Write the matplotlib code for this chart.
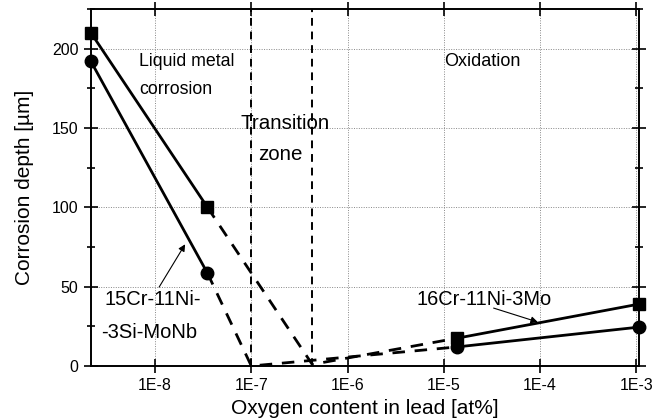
import matplotlib
matplotlib.use("Agg")
import matplotlib.pyplot as plt
from matplotlib.ticker import FixedLocator, FixedFormatter, MultipleLocator, NullLocator

plt.rcParams['font.family'] = ['Liberation Sans', 'DejaVu Sans']

# Oxygen content [at%] and corrosion depth [um]
# 16Cr-11Ni-3Mo (squares)
sq_lm_x = [2.15e-9, 3.5e-8]
sq_lm_y = [210, 100]
sq_tr_x = [3.5e-8, 4.3e-7, 1.37e-5]
sq_tr_y = [100, 1, 17.5]
sq_ox_x = [1.37e-5, 1.07e-3]
sq_ox_y = [17.5, 39]

# 15Cr-11Ni-3Si-MoNb (circles)
ci_lm_x = [2.15e-9, 3.5e-8]
ci_lm_y = [192, 58.5]
ci_tr_x = [3.5e-8, 1.0e-7, 1.37e-5]
ci_tr_y = [58.5, 0, 12]
ci_ox_x = [1.37e-5, 1.07e-3]
ci_ox_y = [12, 24.5]

# transition zone boundaries
zone_x = [1.0e-7, 4.3e-7]

x_ticks = [1e-8, 1e-7, 1e-6, 1e-5, 1e-4, 1e-3]
x_labels = ['1E-8', '1E-7', '1E-6', '1E-5', '1E-4', '1E-3']
y_ticks = [0, 50, 100, 150, 200]

fig = plt.figure(figsize=(6.54, 4.20), dpi=100)
ax = fig.add_axes([0.139, 0.1286, 0.838, 0.85])
ax.set_xscale('log')
ax.set_xlim(2.15e-9, 1.07e-3)
ax.set_ylim(0, 225)

lw = 2.0
dash = (0, (4.5, 3.5))
for xs, ys in [(sq_lm_x, sq_lm_y), (sq_ox_x, sq_ox_y), (ci_lm_x, ci_lm_y), (ci_ox_x, ci_ox_y)]:
    ax.plot(xs, ys, color='black', lw=lw, solid_capstyle='butt', zorder=3)
for xs, ys in [(sq_tr_x, sq_tr_y), (ci_tr_x, ci_tr_y)]:
    ax.plot(xs, ys, color='black', lw=lw, linestyle=dash, zorder=3)

ax.plot(sq_lm_x + sq_ox_x, sq_lm_y + sq_ox_y, linestyle='none', marker='s',
        ms=8, color='black', zorder=4, clip_on=False)
ax.plot(ci_lm_x + ci_ox_x, ci_lm_y + ci_ox_y, linestyle='none', marker='o',
        ms=9, color='black', zorder=4, clip_on=False)

for xv in zone_x:
    ax.axvline(xv, color='black', lw=1.4, linestyle=(0, (4, 3)), zorder=2)

ax.xaxis.set_major_locator(FixedLocator(x_ticks))
ax.xaxis.set_major_formatter(FixedFormatter(x_labels))
ax.xaxis.set_minor_locator(NullLocator())
ax.yaxis.set_major_locator(FixedLocator(y_ticks))
ax.yaxis.set_minor_locator(MultipleLocator(25))

ax.grid(True, which='major', color='#888888', linestyle=(0, (1, 1.5)), lw=0.7)
ax.set_axisbelow(True)
for s in ax.spines.values():
    s.set_linewidth(1.4)

ax.tick_params(which='both', direction='inout', top=True, right=True, width=1.2,
               labelsize=11.5, pad=4)
ax.tick_params(which='major', length=10)
ax.tick_params(which='minor', length=6)

ax.set_xlabel('Oxygen content in lead [at%]', fontsize=15, labelpad=4)
ax.set_ylabel('Corrosion depth [µm]', fontsize=15, labelpad=13)

ax.text(6.8e-9, 192, 'Liquid metal', fontsize=12.8, ha='left', va='center')
ax.text(6.8e-9, 174, 'corrosion', fontsize=12.8, ha='left', va='center')
ax.text(7.65e-8, 153, 'Transition', fontsize=14.8, ha='left', va='center')
ax.text(1.17e-7, 133.6, 'zone', fontsize=14.8, ha='left', va='center')
ax.text(1.02e-5, 192, 'Oxidation', fontsize=13, ha='left', va='center')

ax.text(3.0e-9, 41.6, '15Cr-11Ni-', fontsize=14.5, ha='left', va='center')
ax.text(2.75e-9, 21.4, '-3Si-MoNb', fontsize=14.5, ha='left', va='center')
ax.annotate('', xy=(2.05e-8, 76.7), xytext=(1.1e-8, 49.7),
            arrowprops=dict(arrowstyle='-|>', color='black', lw=0.8, mutation_scale=10,
                            shrinkA=0, shrinkB=0))

ax.text(2.6e-5, 42, '16Cr-11Ni-3Mo', fontsize=14.4, ha='center', va='center')
ax.annotate('', xy=(9.5e-5, 27.7), xytext=(3.3e-5, 36.5),
            arrowprops=dict(arrowstyle='-|>', color='black', lw=0.8, mutation_scale=10,
                            shrinkA=0, shrinkB=0))

fig.savefig('out.png', dpi=100)
